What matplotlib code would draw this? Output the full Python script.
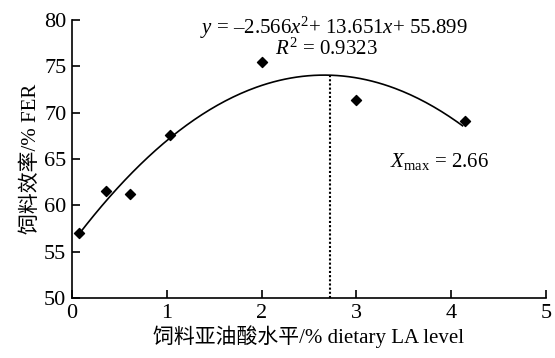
import numpy as np
import matplotlib
matplotlib.use("Agg")
import matplotlib.pyplot as plt

plt.rcParams['font.family'] = ['Liberation Serif', 'Noto Sans CJK SC']
plt.rcParams['mathtext.fontset'] = 'custom'
plt.rcParams['mathtext.rm'] = 'Liberation Serif'
plt.rcParams['mathtext.it'] = 'Liberation Serif:italic'

# data
la_level = [0.07, 0.36, 0.61, 1.03, 2.0, 3.0, 4.15]
fer = [57.0, 61.5, 61.25, 67.6, 75.45, 71.35, 69.1]

# fitted quadratic (coefficients from the figure)
coef_a, coef_b, coef_c = -2.566, 13.651, 55.899
fit_start, fit_end = 0.07, 4.12
x_peak = 2.72

fig = plt.figure(figsize=(5.55, 3.58), dpi=100)
ax = fig.add_axes([0.1297, 0.1676, 0.8541, 0.7765])

xs = np.linspace(fit_start, fit_end, 200)
ax.plot(xs, coef_a * xs**2 + coef_b * xs + coef_c, color='black', lw=1.2)
ax.scatter(la_level, fer, marker='D', s=26, color='black', zorder=3)

y_peak = coef_a * x_peak**2 + coef_b * x_peak + coef_c
ax.plot([x_peak, x_peak], [50, y_peak], color='black', lw=1.5, ls=(0, (1, 1)))

ax.set_xlim(0, 5)
ax.set_ylim(50, 80)
ax.set_xticks([0, 1, 2, 3, 4, 5])
ax.set_yticks([50, 55, 60, 65, 70, 75, 80])
ax.tick_params(direction='in', length=6, width=1.2, labelsize=16, pad=4)
for s in ['top', 'right']:
    ax.spines[s].set_visible(False)
for s in ['left', 'bottom']:
    ax.spines[s].set_linewidth(1.2)

ax.set_xlabel('饲料亚油酸水平/% dietary LA level', fontsize=15, labelpad=2)
ax.set_ylabel('饲料效率/% FER', fontsize=15, labelpad=2)

ax.text(2.76, 79.2, r'$y$ = –2.566$x^2$+ 13.651$x$+ 55.899', fontsize=15,
        ha='center', va='center')
ax.text(2.68, 76.8, r'$R^2$ = 0.9323', fontsize=15, ha='center', va='center')
ax.text(3.88, 64.7, r'$X_{\mathrm{max}}$ = 2.66', fontsize=15, ha='center', va='center')

fig.savefig('out.png', dpi=100)
